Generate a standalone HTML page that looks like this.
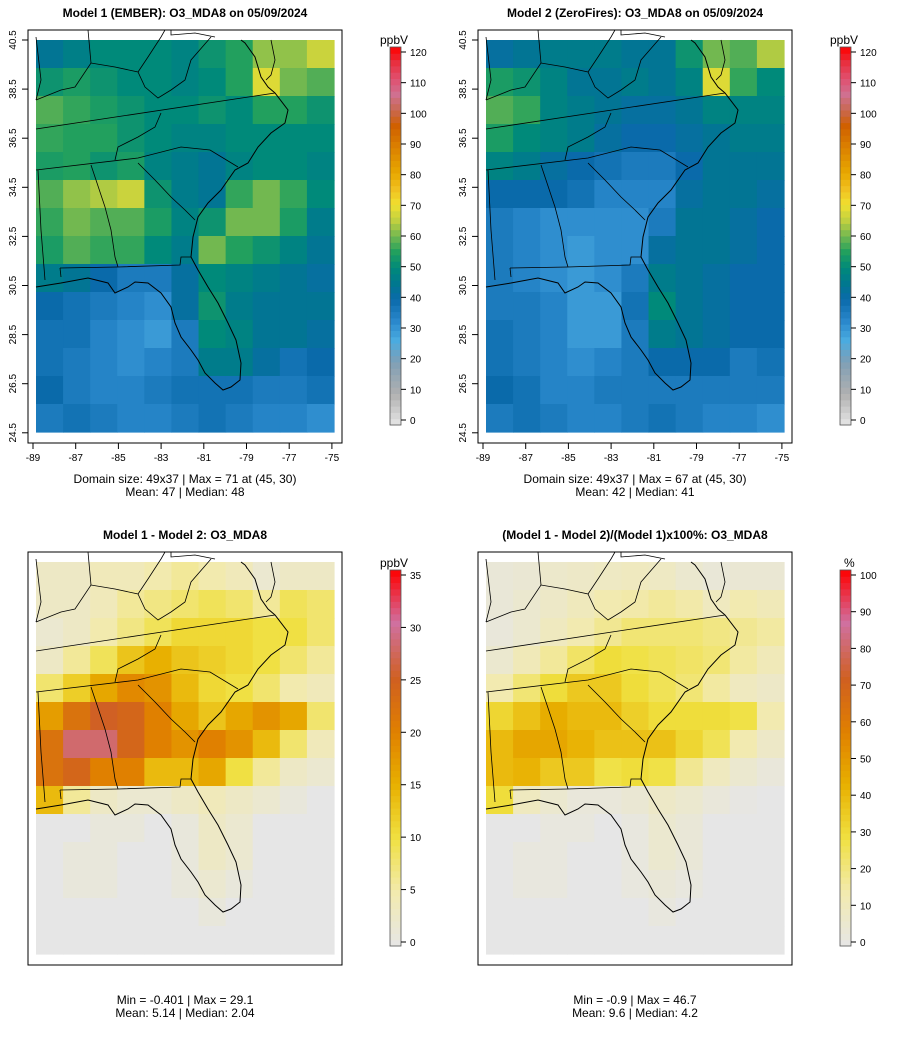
<!DOCTYPE html>
<html><head><meta charset="utf-8">
<style>
body{margin:0;background:#fff;font-family:"Liberation Sans",sans-serif;}
svg text{font-family:"Liberation Sans",sans-serif;}
</style></head>
<body>
<svg id="root" width="900" height="1045" xmlns="http://www.w3.org/2000/svg"></svg>
<script>
// ---------- DATA (14 rows x 11 cols coarse grid, top row = north) ----------
const m1Values = [
[44,47,50,50,50,48,52,55,62,62,66],
[52,54,52,50,50,48,50,55,68,60,58],
[58,56,54,52,50,50,52,50,55,55,52],
[56,55,55,52,50,48,48,50,50,50,50],
[54,55,52,54,48,46,44,48,50,50,48],
[58,62,64,66,52,46,44,56,60,56,50],
[56,60,58,58,54,48,52,60,60,54,46],
[54,58,56,56,50,46,60,55,52,48,44],
[46,44,40,36,36,42,50,48,46,44,42],
[40,38,36,34,32,42,52,46,44,44,44],
[38,38,34,32,30,36,50,48,44,44,42],
[38,36,34,32,34,36,46,46,42,38,40],
[40,36,34,34,36,38,38,38,36,36,38],
[36,38,36,34,34,36,38,36,34,34,32]];
const m2Values = [
[42,44,46,46,46,44,44,52,60,58,64],
[54,52,48,44,44,46,44,48,68,56,50],
[58,56,48,46,44,42,42,44,48,48,48],
[54,50,48,46,42,40,40,42,44,46,46],
[48,46,42,40,38,36,36,40,44,44,44],
[40,40,40,38,34,34,34,42,44,44,42],
[36,34,32,32,32,32,36,44,44,42,40],
[36,34,32,30,32,32,42,44,44,42,40],
[36,34,32,30,32,36,46,44,42,40,40],
[36,36,34,30,30,38,50,44,42,40,40],
[38,36,34,30,30,36,46,44,42,40,40],
[38,36,34,32,34,36,40,40,40,36,38],
[40,38,34,34,36,36,36,36,36,36,36],
[36,38,36,34,34,36,38,36,34,34,32]];
const diffValues = [
[3,3,4,4,5,6,5,4,2,3,3],
[3,3,4,6,7,8,9,8,6,9,8],
[2,3,5,7,9,11,11,11,10,10,8],
[3,6,9,13,15,13,12,11,10,8,6],
[8,12,16,19,18,14,11,10,8,5,4],
[17,22,25,24,20,16,13,16,18,16,8],
[22,28,28,24,20,18,20,18,14,8,4],
[22,24,20,20,14,14,16,10,6,3,2],
[14,6,3,2,2,3,4,3,2,1,0],
[0,0,1,1,0,1,3,2,0,0,0],
[0,1,1,0,0,1,3,2,0,0,0],
[0,1,1,0,0,1,2,1,0,0,0],
[0,0,0,0,0,0,1,0,0,0,0],
[0,0,0,0,0,0,0,0,0,0,0]];
const pctValues = [
[4,5,7,8,9,10,9,6,4,5,5],
[4,6,8,11,14,15,17,15,10,14,12],
[3,6,10,14,18,22,22,22,20,18,16],
[6,12,17,24,30,28,26,24,22,16,12],
[14,22,30,36,36,30,26,22,16,10,8],
[32,38,44,40,40,34,30,30,30,28,14],
[40,46,46,42,38,38,38,32,26,14,8],
[40,42,36,36,28,30,28,18,10,6,3],
[30,10,6,3,3,5,8,6,3,1,0],
[0,0,2,2,0,2,6,4,0,0,0],
[0,2,2,0,0,2,6,4,0,0,0],
[0,2,2,0,0,2,4,2,0,0,0],
[0,0,0,0,0,0,2,0,0,0,0],
[0,0,0,0,0,0,0,0,0,0,0]];
const xTickLabels = ["-89","-87","-85","-83","-81","-79","-77","-75"];
const yTickLabels = ["40.5","38.5","36.5","34.5","32.5","30.5","28.5","26.5","24.5"];
const ppbTicks = [0,10,20,30,40,50,60,70,80,90,100,110,120];
const diffTicks = [0,5,10,15,20,25,30,35];
const pctTicks = [0,10,20,30,40,50,60,70,80,90,100];

// ---------- palettes ----------
const palA=[[0,"#e6e6e6"],[10,"#b0b0b0"],[20,"#7f9fb6"],[27,"#4aabe0"],[33,"#2a88cc"],[40,"#0a6aaa"],[45,"#00788f"],[50,"#008a7a"],[55,"#22a05e"],[60,"#72b850"],[65,"#c0d040"],[70,"#f0e030"],[75,"#f0c020"],[80,"#e8a800"],[90,"#d87800"],[95,"#d06000"],[100,"#c86850"],[105,"#d07090"],[110,"#e05070"],[115,"#e83040"],[120,"#ff0000"]];
const palB=[[0,"#e6e6e6"],[0.14,"#f2eab0"],[0.29,"#f0e040"],[0.43,"#e8b000"],[0.57,"#e08000"],[0.71,"#d06020"],[0.86,"#d070a0"],[1,"#ff0000"]];
function hex(h){return [1,3,5].map(i=>parseInt(h.substr(i,2),16));}
function interp(pal,v){
  if(v<=pal[0][0])return pal[0][1];
  for(let i=1;i<pal.length;i++){if(v<=pal[i][0]){const a=pal[i-1],b=pal[i];const t=(v-a[0])/(b[0]-a[0]);const c1=hex(a[1]),c2=hex(b[1]);return "rgb("+c1.map((c,k)=>Math.round(c+(c2[k]-c)*t)).join(",")+")";}}
  return pal[pal.length-1][1];
}
const NS="http://www.w3.org/2000/svg";
const root=document.getElementById('root');
function el(tag,attrs,parent){const e=document.createElementNS(NS,tag);for(const k in attrs)e.setAttribute(k,attrs[k]);(parent||root).appendChild(e);return e;}
function txt(s,attrs,parent){const t=el('text',attrs,parent);t.textContent=s;return t;}

const coast=[[8,257],[33,253],[60,248],[80,253],[87,263],[100,257],[107,252],[120,253],[133,263],[143,277],[147,293],[153,307],[163,320],[170,330],[177,343],[187,353],[195,360],[203,357],[212,350],[213,333],[208,310],[200,293],[190,273],[180,257],[170,240],[163,227],[165,207],[170,187],[180,173],[193,160],[207,140],[220,133],[230,117],[243,103],[257,93],[260,80],[247,63],[240,57],[233,47],[227,27],[217,13],[213,10]];
const delmarva=[[243,10],[247,30],[243,45],[238,50]];
const borders=[
[[8,99],[247,63]],
[[8,140],[110,128],[153,117],[182,120],[210,137]],
[[110,133],[127,150],[143,167],[157,180],[167,190]],
[[63,135],[77,177],[83,200],[87,227],[90,237]],
[[32,238],[90,237],[152,235],[153,227],[163,227]],
[[10,140],[13,200],[17,250]],
[[32,238],[33,247]],
[[87,130],[90,117],[110,107],[127,97],[133,83]],
[[8,70],[33,60],[47,57],[63,33],[87,37],[110,42],[117,57],[130,68],[143,60],[157,50],[163,30],[183,7]],
[[60,0],[63,33]],
[[110,42],[120,27],[133,7],[137,0]],
[[143,0],[143,5],[167,3],[187,7]],
[[8,7],[13,50],[8,70]]];

function drawPanel(cfg){
  const g=el('g',{transform:`translate(${cfg.x},${cfg.y})`});
  
  
  const t=txt(cfg.title,{x:157,y:-13,'text-anchor':'middle','font-size':12,'font-weight':'bold',fill:'#000'},g);
  
  
  const data=cfg.values, rows=data.length, cols=data[0].length;
  const dx=8,dy=10,dw=298,dh=392;
  const hm=el('g',{},g);
  
  
  const cw=dw/cols, ch=dh/rows;
  for(let r=0;r<rows;r++)for(let c=0;c<cols;c++){
    const v=data[r][c];
    const rc=el('rect',{x:(dx+c*cw).toFixed(2),y:(dy+r*ch).toFixed(2),width:(cw+0.6).toFixed(2),height:(ch+0.6).toFixed(2),fill:cfg.color(v)},hm);
    
    
  }
  const mp=el('g',{fill:'none',stroke:'#000','stroke-width':0.8},g);
  
  
  const pts=a=>a.map(p=>p.join(',')).join(' ');
  el('polyline',{points:pts(coast),'stroke-width':1},mp);
  el('polyline',{points:pts(delmarva)},mp);
  borders.forEach(b=>el('polyline',{points:pts(b)},mp));
  const box=el('rect',{x:0,y:0,width:314,height:413,fill:'none',stroke:'#000','stroke-width':1},g);
  
  
  if(cfg.axes){
    const xs=v=>5+v*42.7;
    xTickLabels.forEach((l,i)=>{
      el('line',{x1:xs(i),x2:xs(i),y1:413,y2:419,stroke:'#000'},g);
      const tt=txt(l,{x:xs(i),y:431,'text-anchor':'middle','font-size':10},g);
      
      
    });
    const ys=v=>10+v*49.1;
    yTickLabels.forEach((l,i)=>{
      el('line',{x1:0,x2:-6,y1:ys(i),y2:ys(i),stroke:'#000'},g);
      const tt=txt(l,{x:-12,y:ys(i),'text-anchor':'middle','font-size':10,transform:`rotate(-90 -12 ${ys(i)})`},g);
      
      
    });
  }
  cfg.foot.forEach((s,i)=>{
    const tt=txt(s,{x:157,y:cfg.footY+i*13,'text-anchor':'middle','font-size':12},g);
    
    
  });
  const cb=el('g',{transform:`translate(${cfg.cbx-cfg.x},${cfg.cbTop-cfg.y})`},g);
  
  
  const H=cfg.cbBot-cfg.cbTop, n=60;
  for(let i=0;i<n;i++){
    const v0=cfg.max*(i+0.5)/n;
    el('rect',{x:0,y:(H-(i+1)*H/n).toFixed(2),width:11,height:(H/n+0.5).toFixed(2),fill:cfg.color(v0)},cb);
  }
  el('rect',{x:0,y:0,width:11,height:H,fill:'none',stroke:'#555','stroke-width':0.8},cb);
  const lab=txt(cfg.unit,{x:cfg.unit==="%"?4:-10,y:-3,'font-size':12},cb);
  
  
  const y0=cfg.t0-cfg.cbTop, y1=cfg.tMax-cfg.cbTop;
  cfg.ticks.forEach(tv=>{
    const yy=y0+(y1-y0)*tv/cfg.max;
    el('line',{x1:11,x2:16,y1:yy,y2:yy,stroke:'#000'},cb);
    const tt=txt(String(tv),{x:20,y:yy+4,'font-size':10},cb);
    
    
  });
}
const cA=v=>interp(palA,v);
drawPanel({name:'panel-model1',x:28,y:30,title:'Model 1 (EMBER): O3_MDA8 on 05/09/2024',values:m1Values,color:cA,axes:true,foot:['Domain size: 49x37 | Max = 71 at (45, 30)','Mean: 47 |  Median: 48'],footY:453,cbx:390,cbTop:47,cbBot:425,max:120,unit:'ppbV',ticks:ppbTicks,t0:420,tMax:52});
drawPanel({name:'panel-model2',x:478,y:30,title:'Model 2 (ZeroFires): O3_MDA8 on 05/09/2024',values:m2Values,color:cA,axes:true,foot:['Domain size: 49x37 | Max = 67 at (45, 30)','Mean: 42 |  Median: 41'],footY:453,cbx:840,cbTop:47,cbBot:425,max:120,unit:'ppbV',ticks:ppbTicks,t0:420,tMax:52});
drawPanel({name:'panel-difference',x:28,y:552,title:'Model 1 - Model 2: O3_MDA8',values:diffValues,color:v=>interp(palB,v/35),axes:false,foot:['Min = -0.401 | Max = 29.1','Mean: 5.14 |  Median: 2.04'],footY:452,cbx:390,cbTop:570,cbBot:946,max:35,unit:'ppbV',ticks:diffTicks,t0:942,tMax:575});
drawPanel({name:'panel-percent-difference',x:478,y:552,title:'(Model 1 - Model 2)/(Model 1)x100%: O3_MDA8',values:pctValues,color:v=>interp(palB,v/100),axes:false,foot:['Min = -0.9 | Max = 46.7','Mean: 9.6 |  Median: 4.2'],footY:452,cbx:840,cbTop:570,cbBot:946,max:100,unit:'%',ticks:pctTicks,t0:942,tMax:575});
</script>
</body></html>
